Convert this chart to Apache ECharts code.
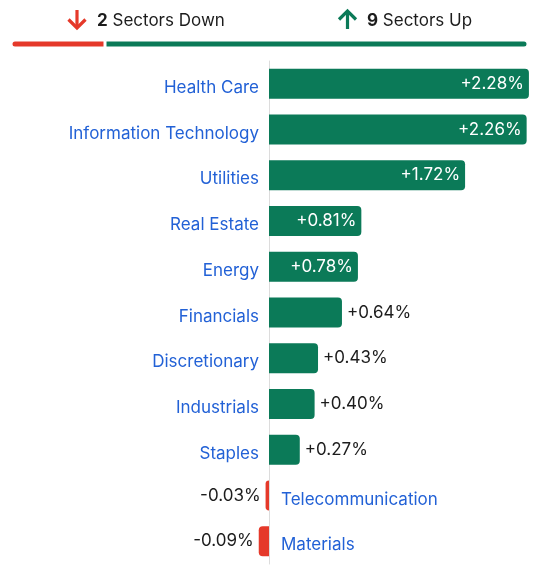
<!DOCTYPE html>
<html><head><meta charset="utf-8">
<script src="https://cdn.jsdelivr.net/npm/echarts@6/dist/echarts.min.js"></script>
<style>html,body{margin:0;padding:0;background:#fff}#c{width:552px;height:576px}</style>
</head><body><div id="c"></div>
<script>
const categories = ['Health Care','Information Technology','Utilities','Real Estate','Energy','Financials','Discretionary','Industrials','Staples','Telecommunication','Materials'];
const values = [2.28,2.26,1.72,0.81,0.78,0.64,0.43,0.40,0.27,-0.03,-0.09];
const downCount = values.filter(v=>v<0).length;
const upCount = values.filter(v=>v>0).length;

const GREEN='#0b7a58', RED='#e5392a', BLUE='#2261d6', DARK='#1c1c1c';
const FONT='Inter';
const FS=17;
const fmt = v => (v>0?'+':'')+v.toFixed(2)+'%';

const mainData = values.map(v=>{
  const inside = v>=0.75;
  return {
    value:v,
    itemStyle:{color: v>=0?GREEN:RED, borderRadius: v>=0?[0,4,4,0]:[4,0,0,4]},
    label:{show:true, position: v<0?'left':(inside?'insideRight':'right'),
      distance:5, color: inside?'#fff':DARK, fontSize:FS, fontFamily:FONT,
      formatter: ()=>fmt(v)}
  };
});
const nameData = values.map(v=>({
  value:0,
  label:{show:true, position: v<0?'right':'left', distance: v<0?12:10, offset:[0,4],
    color:BLUE, fontSize:FS, fontFamily:FONT, formatter:'{b}'}
}));

const arrowStyle = c => ({stroke:c, lineWidth:3.2, fill:null, lineCap:'butt', lineJoin:'miter'});

const chart = echarts.init(document.getElementById('c'));
chart.setOption({
  animation:false,
  graphic:[
    {type:'polyline', shape:{points:[[77,10],[77,28]]}, style:arrowStyle(RED)},
    {type:'polyline', shape:{points:[[68.5,19.5],[77,28],[85.5,19.5]]}, style:arrowStyle(RED)},
    {type:'polyline', shape:{points:[[347.5,29],[347.5,11]]}, style:arrowStyle(GREEN)},
    {type:'polyline', shape:{points:[[339,19.5],[347.5,11],[356,19.5]]}, style:arrowStyle(GREEN)},
    {type:'text', left:97, top:12, style:{text:'{b|'+downCount+'} Sectors Down',
      rich:{b:{fontWeight:'bold',fontSize:FS,fill:DARK,fontFamily:FONT}}, fontSize:FS, fill:DARK, fontFamily:FONT}},
    {type:'text', left:367, top:12, style:{text:'{b|'+upCount+'} Sectors Up',
      rich:{b:{fontWeight:'bold',fontSize:FS,fill:DARK,fontFamily:FONT}}, fontSize:FS, fill:DARK, fontFamily:FONT}}
  ],
  grid:[
    {left:246.2, width:296.4, top:61, height:503},
    {left:11, right:24, top:40, height:8}
  ],
  xAxis:[
    {type:'value', gridIndex:0, min:-0.2, max:2.4, axisLine:{show:false}, axisLabel:{show:false}, axisTick:{show:false}, splitLine:{show:false}},
    {type:'value', gridIndex:1, min:0, max:downCount+upCount, show:false}
  ],
  yAxis:[
    {type:'category', gridIndex:0, inverse:true, data:categories, axisLabel:{show:false}, axisTick:{show:false},
     axisLine:{show:true, onZero:true, lineStyle:{color:'#dcdcdc', width:1}}},
    {type:'category', gridIndex:1, data:['count'], show:false}
  ],
  series:[
    {type:'bar', xAxisIndex:0, yAxisIndex:0, barWidth:30, data:mainData, z:3},
    {type:'bar', xAxisIndex:0, yAxisIndex:0, barWidth:30, barGap:'-100%', data:nameData, z:2},
    {type:'bar', xAxisIndex:1, yAxisIndex:1, stack:'c', barWidth:8, data:[downCount],
     itemStyle:{color:RED, borderRadius:[4,0,0,4], borderColor:'#fff', borderWidth:1.5}},
    {type:'bar', xAxisIndex:1, yAxisIndex:1, stack:'c', barWidth:8, data:[upCount],
     itemStyle:{color:GREEN, borderRadius:[0,4,4,0], borderColor:'#fff', borderWidth:1.5}}
  ]
});
</script></body></html>
